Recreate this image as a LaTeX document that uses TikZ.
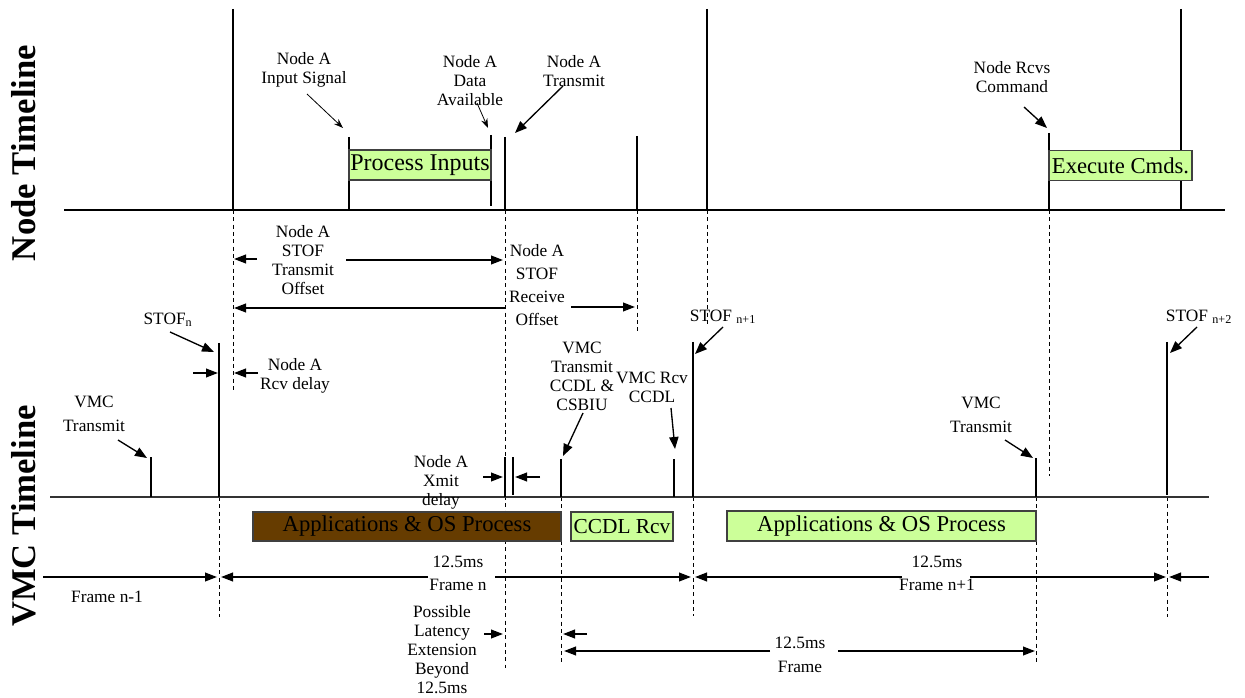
\documentclass[tikz,border=0pt]{standalone}
\usepackage{fontspec}
\setmainfont{Liberation Serif}
\usetikzlibrary{arrows.meta}
\definecolor{boxgreen}{RGB}{204,255,153}
\definecolor{procbrown}{RGB}{102,60,0}

\begin{document}
\begin{tikzpicture}[
    x=0.75pt, y=-0.75pt,
    lbl/.style={align=center, inner sep=0pt, font=\fontsize{13}{14.25}\selectfont},
    title/.style={rotate=90, inner sep=0pt, font=\bfseries\fontsize{26}{30}\selectfont},
    tline/.style={line width=1.5pt},
    tick/.style={line width=1.3pt},
    thin tick/.style={line width=0.9pt},
    guide/.style={line width=0.7pt, dash pattern=on 3pt off 2.5pt},
    ptr/.style={-{Stealth[length=7pt,width=5pt]}, line width=0.6pt},
    bigptr/.style={-{Triangle[length=9pt,width=7pt]}, line width=1pt},
    dim/.style={-{Triangle[length=9pt,width=6.5pt]}, line width=1.4pt},
    procbox/.style={draw=black!75, line width=0.8pt, inner sep=0pt, font=\fontsize{17}{19}\selectfont},
]
    \useasboundingbox (0,0) rectangle (1245,698);

    % titles
    \node[title] (ntitle) at (24,153) {Node Timeline};
    \node[title] (vtitle) at (24,516) {VMC Timeline};

    % guide lines
    \draw[guide] (233,210) -- (233,393);
    \draw[guide] (505,210) -- (505,668);
    \draw[guide] (637,210) -- (637,334);
    \draw[guide] (707,210) -- (707,327);
    \draw[guide] (1049,210) -- (1049,476);
    \draw[guide] (219,497) -- (219,617);
    \draw[guide] (561,497) -- (561,663);
    \draw[guide] (693,497) -- (693,616);
    \draw[guide] (1036,497) -- (1036,662);
    \draw[guide] (1167,497) -- (1167,617);

    % node timeline
    \draw[tline] (64,210) -- (1225,210);
    \foreach \x in {233,707,1181}
        \draw[tline] (\x,9) -- (\x,210);
    \draw[tick] (349,137) -- (349,210);
    \draw[tick] (491,135) -- (491,206);
    \draw[tick] (505,137) -- (505,210);
    \draw[tick] (637,136) -- (637,210);
    \draw[tick] (1049,133) -- (1049,210);

    \node[procbox, fill=boxgreen, minimum width=106.5pt, minimum height=22.5pt, font=\fontsize{18}{20}\selectfont] (procin) at (420,165) {Process Inputs};
    \node[procbox, fill=boxgreen, minimum width=107.25pt, minimum height=23pt] (execcmd) at (1120.5,165.5) {Execute Cmds.};

    % vmc timeline
    \draw[line width=0.9pt, black!80] (50,497) -- (1209,497);
    \draw[thin tick] (151,457) -- (151,497);
    \draw[thin tick] (219,343) -- (219,497);
    \draw[thin tick] (505,457) -- (505,497);
    \draw[thin tick] (513,457) -- (513,495);
    \draw[tick] (561,459) -- (561,497);
    \draw[tick] (674,459) -- (674,497);
    \draw[thin tick] (693,342) -- (693,497);
    \draw[thin tick] (1036,458) -- (1036,497);
    \draw[thin tick] (1167,342) -- (1167,495);

    \node[procbox, fill=procbrown, minimum width=231pt, minimum height=21.75pt] (appsn) at (407,526.5) {Applications \& OS Process};
    \node[procbox, fill=boxgreen, minimum width=76.5pt, minimum height=21.75pt, font=\fontsize{16}{18}\selectfont] (ccdlrcv) at (622,526.5) {CCDL Rcv};
    \node[procbox, fill=boxgreen, minimum width=231.75pt, minimum height=22.5pt] (appsn1) at (881.5,526) {Applications \& OS Process};

    % labels
    \node[lbl] (lInput) at (304,70) {Node A\\Input Signal};
    \node[lbl] (lAvail) at (470,81) {Node A\\Data\\Available};
    \node[lbl] (lXmit) at (574,71) {Node A\\Transmit};
    \node[lbl] (lRcvs) at (1012,77) {Node Rcvs\\Command};
    \node[lbl] (lTxOff) at (303,260) {Node A\\STOF\\Transmit\\Offset};
    \node[lbl, font=\fontsize{13}{17.25}\selectfont] (lRxOff) at (537,285) {Node A\\STOF\\Receive\\Offset};
    \node[lbl] (lStofN) at (168,320) {STOF\textsubscript{n}};
    \node[lbl] (lStofA) at (723,317) {STOF \textsubscript{n+1}};
    \node[lbl] (lStofB) at (1199,317) {STOF \textsubscript{n+2}};
    \node[lbl] (lRcvDly) at (295,376) {Node A\\Rcv delay};
    \node[lbl, font=\fontsize{13}{18}\selectfont] (lVmcTxA) at (94,414) {VMC\\Transmit};
    \node[lbl, font=\fontsize{13}{18}\selectfont] (lVmcTxB) at (981,415) {VMC\\Transmit};
    \node[lbl] (lTxCcdl) at (582,376) {VMC\\Transmit\\CCDL \&\\CSBIU};
    \node[lbl] (lRxCcdl) at (652,387) {VMC Rcv\\CCDL};
    \node[lbl] (lXmitDly) at (441,482) {Node A\\Xmit\\delay};
    \node[lbl] (lFrameA) at (107,597) {Frame n-1};
    \node[lbl, font=\fontsize{13}{17.25}\selectfont] (lFrameN) at (458,573) {12.5ms\\Frame n};
    \node[lbl, font=\fontsize{13}{17.25}\selectfont] (lFrameB) at (937,573) {12.5ms\\Frame n+1};
    \node[lbl] (lLatency) at (442,650) {Possible\\Latency\\Extension\\Beyond\\12.5ms};
    \node[lbl, font=\fontsize{13}{18}\selectfont] (lFrame) at (800,655) {12.5ms\\Frame};

    % pointers
    \draw[ptr] (307,94) -- (343,128);
    \draw[ptr] (477,103) -- (488,128);
    \draw[bigptr] (563,86) -- (515,133);
    \draw[bigptr] (1024,107) -- (1047,128);
    \draw[bigptr] (170,332) -- (214,352);
    \draw[bigptr] (723,327) -- (695,354);
    \draw[bigptr] (1197,327) -- (1170,353);
    \draw[bigptr] (118,440) -- (147,458);
    \draw[bigptr] (1005,440) -- (1033,458);
    \draw[bigptr] (583,413) -- (563,456);
    \draw[bigptr] (671,408) -- (675,449);

    % offsets and delays
    \draw[dim] (257,259) -- (234,259);
    \draw[dim] (346,260) -- (503,260);
    \draw[dim] (505,308) -- (234,308);
    \draw[dim] (571,307) -- (635,307);
    \draw[dim] (193,373) -- (218,373);
    \draw[dim] (258,373) -- (234,373);
    \draw[dim] (483,477) -- (503,477);
    \draw[dim] (540,477) -- (515,477);

    % frames
    \draw[dim] (43,577) -- (217,577);
    \draw[dim] (428,577) -- (221,577);
    \draw[dim] (495,577) -- (691,577);
    \draw[dim] (902,577) -- (695,577);
    \draw[dim] (970,577) -- (1166,577);
    \draw[dim] (1209,577) -- (1169,577);
    \draw[dim] (484,634) -- (503,634);
    \draw[dim] (587,634) -- (563,634);
    \draw[dim] (770,651) -- (564,651);
    \draw[dim] (838,651) -- (1035,651);
\end{tikzpicture}
\end{document}
